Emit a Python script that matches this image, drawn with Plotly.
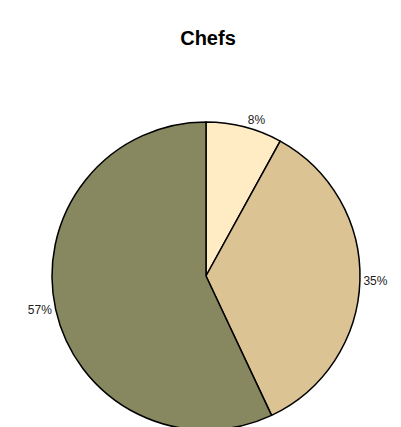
import plotly.graph_objects as go

categories = ["Catégorie 1", "Catégorie 2", "Catégorie 3"]
values = [8, 35, 57]
colors = ["#FFEBC4", "#DCC394", "#878760"]

H = 440
fig = go.Figure(go.Pie(
    labels=categories,
    values=values,
    sort=False,
    direction="clockwise",
    rotation=0,
    marker=dict(colors=colors, line=dict(color="#000000", width=1.5)),
    textinfo="percent",
    textposition="outside",
    textfont=dict(family="Liberation Sans", size=12, color="#222222"),
    showlegend=False,
    domain=dict(x=[52/401, 360/401], y=[(H - 430) / H, (H - 122) / H]),
))

fig.update_layout(
    width=401, height=H,
    margin=dict(l=0, r=0, t=0, b=0),
    paper_bgcolor="white",
    plot_bgcolor="white",
    title=dict(text="<b>Chefs</b>", x=208/401, xanchor="center",
               y=1 - 38/H, yanchor="middle",
               font=dict(family="Liberation Sans", size=20, color="#000000")),
)

fig.write_html("out.html", config={"displayModeBar": False},
               post_script="document.body.style.margin='0';document.body.style.overflow='hidden';")
